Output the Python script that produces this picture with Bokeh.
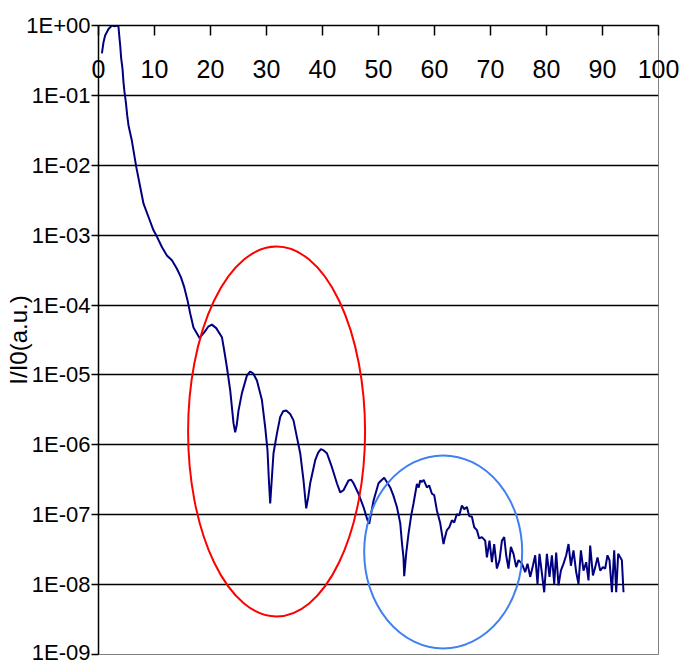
from bokeh.plotting import figure
from bokeh.models import FixedTicker, CustomJSTickFormatter
from bokeh.embed import file_html
from bokeh.resources import INLINE

# Reflectivity scan: angle (arbitrary units) and log10 of normalised intensity
angle = [
    0.61, 0.89, 1.20, 1.79, 2.39, 2.89, 3.46, 3.57, 3.70, 3.88,
    4.05, 4.29, 4.46, 4.64, 4.89, 5.13, 5.36, 5.96, 6.73, 7.45,
    8.04, 8.93, 9.82, 10.43, 11.32, 12.21, 13.11, 14.00, 14.71, 15.30,
    15.89, 16.38, 16.96, 18.04, 18.88, 19.59, 20.25, 21.02, 22.04, 22.45,
    22.93, 23.52, 24.11, 24.41, 24.68, 25.00, 25.61, 26.50, 27.09, 27.63,
    28.29, 29.18, 29.77, 30.18, 30.43, 30.66, 30.93, 31.25, 31.86, 32.45,
    32.98, 33.52, 34.23, 34.82, 35.43, 36.02, 36.61, 37.09, 37.45, 37.80,
    38.70, 39.23, 39.71, 40.21, 40.79, 41.68, 42.57, 43.16, 43.75, 44.64,
    45.13, 45.54, 46.43, 47.32, 48.04, 48.34, 49.11, 50.00, 50.48, 51.02,
    51.55, 52.09, 52.63, 53.29, 53.88, 54.23, 54.46, 54.59, 54.95, 55.36,
    55.84, 56.25, 56.86, 57.18, 57.45, 57.75, 58.07, 58.64, 59.05, 59.54,
    59.95, 60.43, 61.02, 61.61, 61.91, 62.21, 62.63, 63.11, 63.52, 64.00,
    64.41, 64.89, 65.30, 65.79, 66.20, 66.68, 67.09, 67.57, 67.98, 68.46,
    69.05, 69.36, 69.82, 70.25, 70.66, 71.14, 71.61, 72.04, 72.45, 72.80,
    73.21, 73.64, 74.11, 74.59, 75.00, 75.61, 76.20, 76.61, 77.09, 77.57,
    77.98, 78.39, 78.75, 79.18, 79.59, 80.07, 80.54, 80.96, 81.38, 81.73,
    82.14, 82.57, 83.04, 83.52, 83.93, 84.36, 84.82, 85.30, 85.71, 86.14,
    86.61, 87.09, 87.50, 87.80, 88.29, 88.70, 89.11, 89.59, 90.07, 90.48,
    90.89, 91.25, 91.68, 92.09, 92.45, 92.80, 93.16, 93.46, 93.75,
]
log_intensity = [
    -0.40, -0.24, -0.14, -0.05, 0.00, -0.01, 0.00, -0.02, -0.14, -0.29,
    -0.47, -0.62, -0.81, -0.95, -1.10, -1.29, -1.43, -1.65, -2.02, -2.31,
    -2.55, -2.74, -2.93, -3.02, -3.17, -3.29, -3.36, -3.48, -3.60, -3.74,
    -3.93, -4.12, -4.32, -4.47, -4.39, -4.31, -4.28, -4.33, -4.46, -4.65,
    -4.89, -5.22, -5.69, -5.82, -5.72, -5.51, -5.26, -5.01, -4.95, -4.98,
    -5.08, -5.36, -5.75, -6.08, -6.51, -6.84, -6.51, -6.12, -5.84, -5.60,
    -5.52, -5.51, -5.56, -5.65, -5.89, -6.12, -6.51, -6.91, -6.75, -6.55,
    -6.22, -6.11, -6.06, -6.08, -6.12, -6.32, -6.55, -6.68, -6.65, -6.51,
    -6.50, -6.55, -6.70, -6.89, -7.08, -7.13, -6.80, -6.55, -6.51, -6.47,
    -6.54, -6.61, -6.72, -6.89, -7.12, -7.44, -7.61, -7.88, -7.55, -7.27,
    -7.01, -6.84, -6.56, -6.61, -6.51, -6.53, -6.50, -6.61, -6.58, -6.70,
    -6.72, -6.94, -7.12, -7.42, -7.31, -7.22, -7.18, -7.08, -7.11, -6.99,
    -7.01, -6.87, -6.92, -6.89, -7.02, -7.03, -7.18, -7.22, -7.34, -7.32,
    -7.37, -7.61, -7.37, -7.68, -7.42, -7.77, -7.65, -7.37, -7.32, -7.58,
    -7.77, -7.46, -7.56, -7.75, -7.65, -7.70, -7.82, -7.70, -7.89, -7.73,
    -7.58, -7.99, -7.56, -7.84, -8.11, -7.56, -7.89, -7.58, -7.99, -7.54,
    -8.01, -7.80, -7.70, -7.58, -7.42, -7.73, -7.51, -7.82, -7.99, -7.51,
    -7.80, -7.68, -7.94, -7.44, -7.87, -7.75, -7.61, -7.80, -7.75, -7.77,
    -7.58, -7.65, -8.11, -7.51, -8.11, -7.56, -7.61, -7.65, -8.11,
]
intensity = [10 ** v for v in log_intensity]

x_ticks = [0, 10, 20, 30, 40, 50, 60, 70, 80, 90, 100]
y_ticks = [1e0, 1e-1, 1e-2, 1e-3, 1e-4, 1e-5, 1e-6, 1e-7, 1e-8, 1e-9]

# Highlighted fringe regions: centre angle, centre intensity
fringe_angle = [31.8, 61.55]
fringe_intensity = [1.55e-6, 2.94e-8]

tick_font = "Liberation Sans"

p = figure(
    width=683, height=664,
    x_range=(0, 100), y_range=(1e-9, 1),
    y_axis_type="log", x_axis_location="above",
    output_backend="svg", toolbar_location=None,
    min_border_left=98, min_border_top=25,
    min_border_right=25, min_border_bottom=10,
    background_fill_color="white", border_fill_color="white",
)
p.outline_line_color = "#808080"
p.outline_line_width = 1

# top angle axis, ticks pointing into the plot, labels under the axis line
xa = p.xaxis[0]
xa.ticker = FixedTicker(ticks=x_ticks)
xa.major_tick_in = 10
xa.major_tick_out = 0
xa.minor_tick_line_color = None
xa.axis_line_color = "black"
xa.axis_line_width = 1.5
xa.major_tick_line_width = 1.5
xa.major_label_standoff = -52
xa.major_label_text_font = tick_font
xa.major_label_text_font_size = "25px"
xa.major_label_text_color = "black"

ya = p.yaxis[0]
yt = FixedTicker(ticks=y_ticks)
ya.ticker = yt
ya.formatter = CustomJSTickFormatter(code="""
const e = Math.round(Math.log10(tick));
const s = e < 0 ? "-" : "+";
return "1E" + s + String(Math.abs(e)).padStart(2, "0");
""")
ya.major_tick_in = 0
ya.major_tick_out = 7
ya.minor_tick_line_color = None
ya.axis_line_color = "black"
ya.axis_line_width = 1.5
ya.major_tick_line_width = 1.5
ya.major_label_standoff = 1
ya.major_label_text_font = tick_font
ya.major_label_text_font_size = "22px"
ya.major_label_text_color = "black"
ya.axis_label = "I/I0(a.u.)"
ya.axis_label_text_font = "Liberation Sans"
ya.axis_label_text_font_style = "normal"
ya.axis_label_text_font_size = "24px"
ya.axis_label_text_color = "black"
ya.axis_label_standoff = -9

p.xgrid.grid_line_color = None
p.ygrid.ticker = yt
p.ygrid.grid_line_color = "black"
p.ygrid.grid_line_width = 1.5

p.line(angle, intensity, line_color="#000080", line_width=2)

p.ellipse(x=[fringe_angle[0]], y=[fringe_intensity[0]], width=177, height=370,
          width_units="screen", height_units="screen",
          fill_color=None, line_color="#ff0000", line_width=2)
p.ellipse(x=[fringe_angle[1]], y=[fringe_intensity[1]], width=158, height=193,
          width_units="screen", height_units="screen",
          fill_color=None, line_color="#4080f0", line_width=2)

open("out.html", "w").write(file_html(p, INLINE))
